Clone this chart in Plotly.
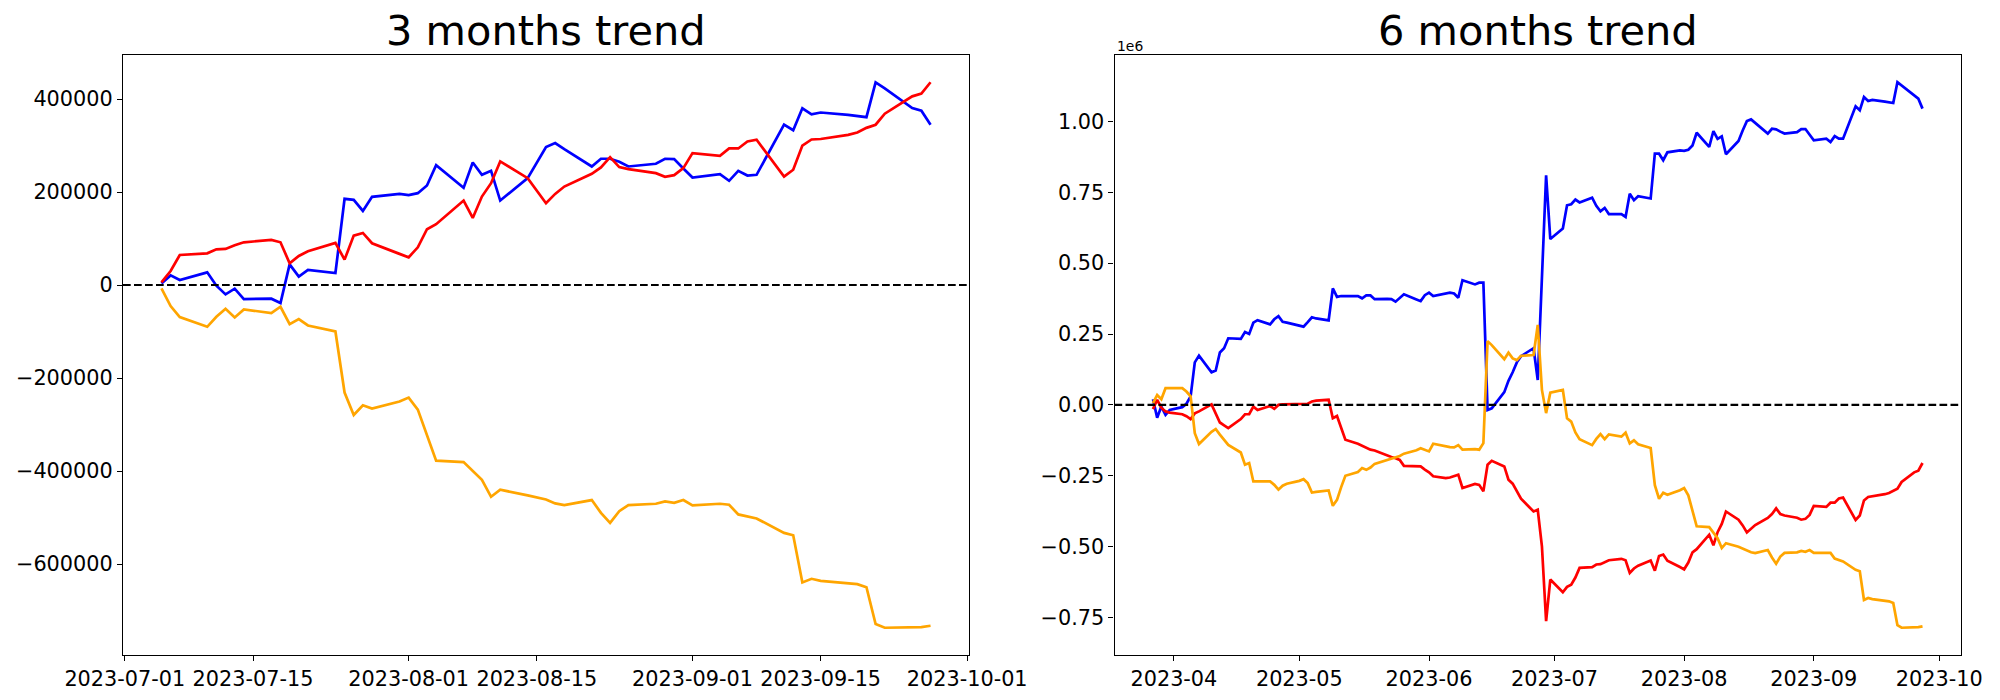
import pandas as pd
import plotly.graph_objects as go

# ---------------- 3 months data (business days) ----------------
dates_3m = pd.bdate_range("2023-07-05", "2023-09-27")
blue_3m = [3600, 20800, 10800, 27300, -1400, -20100, -7900, -30200, -29400, -38800,
           44500, 18000, 32300, 25800, 185300, 183100, 159400, 189600, 196000, 193200,
           197500, 214000, 257800, 209000, 263600, 237000, 245600, 181700, 229800, 262000,
           296600, 305200, 292000, 254900, 271500, 271500, 265000, 254900, 260700, 271500,
           270800, 250600, 231200, 238400, 224100, 245600, 235500, 237000, 345000, 333000,
           380000, 367000, 371000, 366000, 364000, 361000, 435900, 422900, 380600, 374800, 344700]
red_3m = [5700, 30200, 64600, 68200, 76800, 77600, 85500, 91900, 96900, 91900,
          46700, 62500, 72500, 90500, 54600, 106300, 112000, 89800, 67000, 59600,
          81100, 120000, 130700, 181700, 144300, 190300, 219000, 265700, 229800, 203000,
          175900, 196000, 211800, 239100, 252800, 275000, 253500, 249200, 240600, 232700,
          236300, 251300, 283700, 278000, 293700, 293700, 308800, 312400, 233000, 248000,
          300000, 313000, 314000, 323000, 328000, 338000, 344700, 368400, 405700, 411500, 436000]
orange_3m = [-7200, -45200, -68900, -89800, -68200, -51000, -69700, -52400, -60300, -46700,
             -84000, -73200, -86900, -99800, -231200, -279400, -258500, -265700, -250600, -242000,
             -267900, -323200, -377700, -380600, -400000, -418700, -455300, -440200, -452300, -456000,
             -461000, -469600, -473200, -462400, -489800, -511400, -486200, -473200, -470300, -465300,
             -468200, -462400, -473900, -470300, -472500, -493300, -497000, -502000, -533000, -538000,
             -639600, -631700, -636000, -641000, -643200, -649700, -729000, -736900, -736900, -735400, -732600]

# ---------------- 6 months data (business days, in millions) ----------------
dates_6m = pd.bdate_range("2023-03-27", "2023-09-27")
blue_6m = [0.020, -0.045, -0.006, -0.035, -0.018,
           -0.008, 0.004, 0.030, 0.150, 0.174, 0.115, 0.121, 0.185, 0.200, 0.235,
           0.233, 0.257, 0.250, 0.290, 0.299, 0.284, 0.302, 0.313, 0.293, 0.290,
           0.279, 0.276, 0.292, 0.309, 0.305, 0.298, 0.411, 0.381, 0.384, 0.384,
           0.384, 0.376, 0.386, 0.386, 0.373, 0.374, 0.373, 0.364, 0.377, 0.390,
           0.372, 0.366, 0.387,
           0.396, 0.384, 0.393, 0.396, 0.393, 0.378, 0.440, 0.425, 0.431, 0.431,
           -0.018, -0.012, 0.045, 0.085, 0.115, 0.150, 0.172, 0.200, 0.088, 0.450,
           0.810, 0.585,
           0.622, 0.704, 0.708, 0.724, 0.714, 0.731, 0.702, 0.683, 0.695, 0.673,
           0.673, 0.663, 0.745, 0.722, 0.736, 0.728, 0.886, 0.886, 0.863, 0.891, 0.898,
           0.896, 0.900, 0.915, 0.960, 0.910, 0.966, 0.938, 0.947, 0.884, 0.931,
           0.968, 1.001, 1.007, 0.994, 0.957, 0.974, 0.972, 0.964, 0.957, 0.962,
           0.973, 0.973, 0.953,
           0.933, 0.939, 0.927, 0.948, 0.939, 0.939, 1.053, 1.039, 1.086, 1.072,
           1.076, 1.070, 1.068, 1.065, 1.138, 1.127, 1.092, 1.080, 1.045]
red_6m = [-0.015, 0.018, -0.010, -0.023, -0.027,
          -0.033, -0.040, -0.050, -0.030, -0.023, 0.002, -0.030, -0.062, -0.072, -0.082,
          -0.050, -0.033, -0.033, -0.006, -0.018, -0.004, -0.014, 0.000, 0.002, 0.002,
          0.003, 0.003, 0.004, 0.012, 0.015, 0.018, -0.047, -0.039, -0.082, -0.123,
          -0.137, -0.145, -0.153, -0.158, -0.161, -0.180, -0.184, -0.188, -0.194, -0.215,
          -0.216, -0.217, -0.228,
          -0.238, -0.252, -0.258, -0.256, -0.251, -0.246, -0.293, -0.279, -0.282, -0.305,
          -0.211, -0.197, -0.217, -0.264, -0.278, -0.305, -0.331, -0.376, -0.370, -0.499,
          -0.763, -0.616,
          -0.661, -0.642, -0.634, -0.609, -0.575, -0.572, -0.563, -0.562, -0.554, -0.548,
          -0.543, -0.548, -0.593, -0.577, -0.567, -0.549, -0.585, -0.533, -0.528, -0.550, -0.572,
          -0.580, -0.556, -0.520, -0.509, -0.458, -0.495, -0.449, -0.420, -0.376, -0.405,
          -0.425, -0.450, -0.438, -0.424, -0.399, -0.385, -0.365, -0.385, -0.390, -0.398,
          -0.405, -0.402, -0.388,
          -0.356, -0.360, -0.345, -0.345, -0.330, -0.327, -0.406, -0.390, -0.337, -0.325,
          -0.323, -0.315, -0.311, -0.303, -0.296, -0.272, -0.238, -0.232, -0.205]
orange_6m = [0.006, 0.035, 0.020, 0.059, 0.059,
             0.059, 0.047, 0.030, -0.100, -0.138, -0.095, -0.085, -0.105, -0.123, -0.141,
             -0.168, -0.211, -0.205, -0.270, -0.270, -0.270, -0.282, -0.299, -0.285, -0.278,
             -0.268, -0.262, -0.276, -0.309, -0.307, -0.302, -0.356, -0.335, -0.290, -0.250,
             -0.237, -0.223, -0.229, -0.221, -0.208, -0.194, -0.190, -0.185, -0.180, -0.172,
             -0.160, -0.153, -0.158,
             -0.164, -0.137, -0.147, -0.149, -0.150, -0.142, -0.158, -0.156, -0.158, -0.135,
             0.225, 0.211, 0.161, 0.184, 0.164, 0.158, 0.173, 0.176, 0.282, 0.053,
             -0.029, 0.043,
             0.053, -0.047, -0.059, -0.097, -0.121, -0.142, -0.120, -0.103, -0.121, -0.104,
             -0.112, -0.098, -0.136, -0.125, -0.139, -0.152, -0.283, -0.331, -0.310, -0.317, -0.301,
             -0.293, -0.319, -0.374, -0.428, -0.431, -0.450, -0.470, -0.505, -0.488, -0.500,
             -0.507, -0.512, -0.520, -0.523, -0.512, -0.538, -0.560, -0.535, -0.522, -0.520,
             -0.515, -0.518, -0.512,
             -0.522, -0.520, -0.522, -0.542, -0.546, -0.552, -0.582, -0.587, -0.688, -0.681,
             -0.685, -0.690, -0.693, -0.699, -0.777, -0.786, -0.786, -0.784, -0.781]

titles = ["3 months trend", "6 months trend"]
ticks_3m = ["2023-07-01", "2023-07-15", "2023-08-01", "2023-08-15",
            "2023-09-01", "2023-09-15", "2023-10-01"]
ticks_6m = ["2023-04-01", "2023-05-01", "2023-06-01", "2023-07-01",
            "2023-08-01", "2023-09-01", "2023-10-01"]
colors = ["blue", "red", "orange"]

FONT = "DejaVu Sans"
LW = 2.7

fig = go.Figure()
for ys, c in zip([blue_3m, red_3m, orange_3m], colors):
    fig.add_trace(go.Scatter(x=dates_3m, y=ys, mode="lines",
                             line=dict(color=c, width=LW), xaxis="x", yaxis="y",
                             showlegend=False))
for ys, c in zip([blue_6m, red_6m, orange_6m], colors):
    fig.add_trace(go.Scatter(x=dates_6m, y=ys, mode="lines",
                             line=dict(color=c, width=LW), xaxis="x2", yaxis="y2",
                             showlegend=False))

def pad_range(start, end, frac=0.05):
    s, e = pd.Timestamp(start), pd.Timestamp(end)
    m = (e - s) * frac
    return [s - m, e + m]

def pad_vals(lists, frac=0.05):
    lo = min(min(l) for l in lists)
    hi = max(max(l) for l in lists)
    m = (hi - lo) * frac
    return [lo - m, hi + m]

ax_common = dict(showgrid=False, zeroline=False, showline=True, linecolor="black",
                 linewidth=1.1, mirror=True, ticks="outside", ticklen=5, tickwidth=1.1,
                 tickcolor="black", automargin=False, tickangle=0,
                 tickfont=dict(family=FONT, size=20.8, color="black"))

yd = [45 / 700, 645 / 700]
xd1 = [123 / 2000, 969 / 2000]
xd2 = [1114.5 / 2000, 1961 / 2000]

fig.update_layout(
    template="none",
    width=2000, height=700,
    margin=dict(l=0, r=0, t=0, b=0, pad=0),
    paper_bgcolor="white", plot_bgcolor="white",
    font=dict(family=FONT, color="black"),
    showlegend=False,
    xaxis=dict(domain=xd1, anchor="y", type="date",
               range=pad_range(dates_3m[0], dates_3m[-1]),
               tickvals=ticks_3m, tickformat="%Y-%m-%d", **ax_common),
    yaxis=dict(domain=yd, anchor="x",
               range=pad_vals([blue_3m, red_3m, orange_3m]),
               dtick=200000, tick0=0, tickformat="d", **ax_common),
    xaxis2=dict(domain=xd2, anchor="y2", type="date",
                range=pad_range(dates_6m[0], dates_6m[-1]),
                tickvals=ticks_6m, tickformat="%Y-%m", **ax_common),
    yaxis2=dict(domain=yd, anchor="x2",
                range=pad_vals([blue_6m, red_6m, orange_6m]),
                dtick=0.25, tick0=0, tickformat=".2f", **ax_common),
)

for xr, yr in [("x domain", "y"), ("x2 domain", "y2")]:
    fig.add_shape(type="line", xref=xr, yref=yr, x0=0, x1=1, y0=0, y1=0,
                  line=dict(color="black", width=2.1, dash="7.7px,3.3px"), layer="above")

for t, d in zip(titles, [xd1, xd2]):
    fig.add_annotation(text=t, xref="paper", yref="paper", x=(d[0] + d[1]) / 2,
                       y=yd[1], xanchor="center", yanchor="bottom", yshift=-2,
                       showarrow=False, font=dict(family=FONT, size=41.5, color="black"))

fig.add_annotation(text="1e6", xref="paper", yref="paper", x=xd2[0], y=yd[1],
                   xanchor="left", yanchor="bottom", yshift=-1, showarrow=False,
                   font=dict(family=FONT, size=13.9, color="black"))

fig.write_html("out.html", config={"displayModeBar": False},
               post_script="document.body.style.margin='0';document.body.style.overflow='hidden';")
